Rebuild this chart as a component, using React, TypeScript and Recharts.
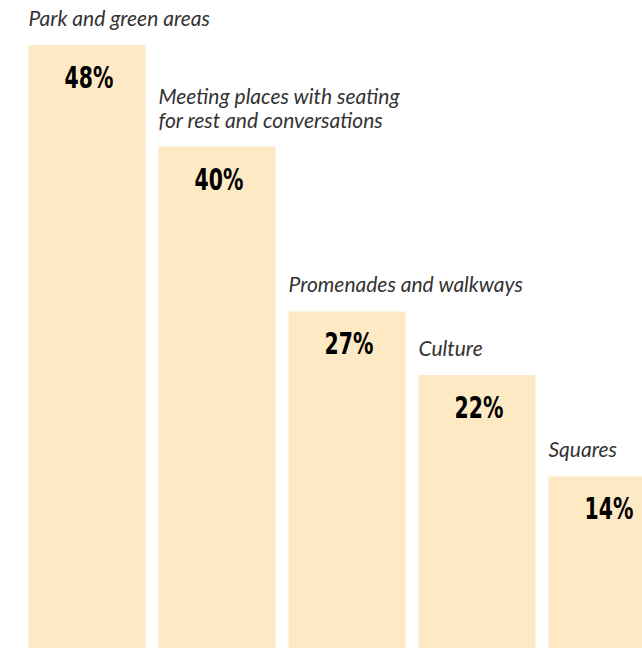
import React from 'react';
import { BarChart, Bar, XAxis, YAxis, LabelList } from 'recharts';

const categories = [
  'Park and green areas',
  'Meeting places with seating\nfor rest and conversations',
  'Promenades and walkways',
  'Culture',
  'Squares',
];
const shares = [48, 40, 27, 22, 14];

const data = categories.map((name, i) => ({ name, value: shares[i] }));

const BAR_FILL = '#fde9c4';

const CategoryLabel = (props: any) => {
  const { x, y, index } = props;
  const lines = categories[index].split('\n');
  const lineH = 24;
  return (
    <text
      x={x}
      y={y - 19 - (lines.length - 1) * lineH}
      fill="#333"
      fontFamily="Lato, 'Open Sans', sans-serif"
      fontStyle="italic"
      fontSize={21}
    >
      {lines.map((l: string, i: number) => (
        <tspan key={i} x={x} dy={i === 0 ? 0 : lineH}>
          {l}
        </tspan>
      ))}
    </text>
  );
};

const ValueLabel = (props: any) => {
  const { x, y, width, value } = props;
  const cx = x + width / 2 + 2;
  return (
    <text
      transform={`translate(${cx}, ${y + 43}) scale(0.68, 1)`}
      x={0}
      y={0}
      textAnchor="middle"
      fill="#000"
      fontFamily="'DejaVu Sans', sans-serif"
      fontWeight="bold"
      fontSize={30}
    >
      {`${value}%`}
    </text>
  );
};

export default function App() {
  return (
    <div style={{ position: 'absolute', left: 0, top: 0, width: 642, height: 648, overflow: 'hidden', background: '#fff' }}>
      {/* plot runs a little below the visible area, as in the original crop */}
      <BarChart
        width={680}
        height={654}
        data={data}
        margin={{ top: 45, right: 8.5, bottom: 0, left: 21.5 }}
        barSize={117}
      >
        <XAxis dataKey="name" hide />
        <YAxis domain={[0, 48]} hide />
        <Bar dataKey="value" fill={BAR_FILL} isAnimationActive={false}>
          <LabelList dataKey="value" content={<CategoryLabel />} />
          <LabelList dataKey="value" content={<ValueLabel />} />
        </Bar>
      </BarChart>
    </div>
  );
}
